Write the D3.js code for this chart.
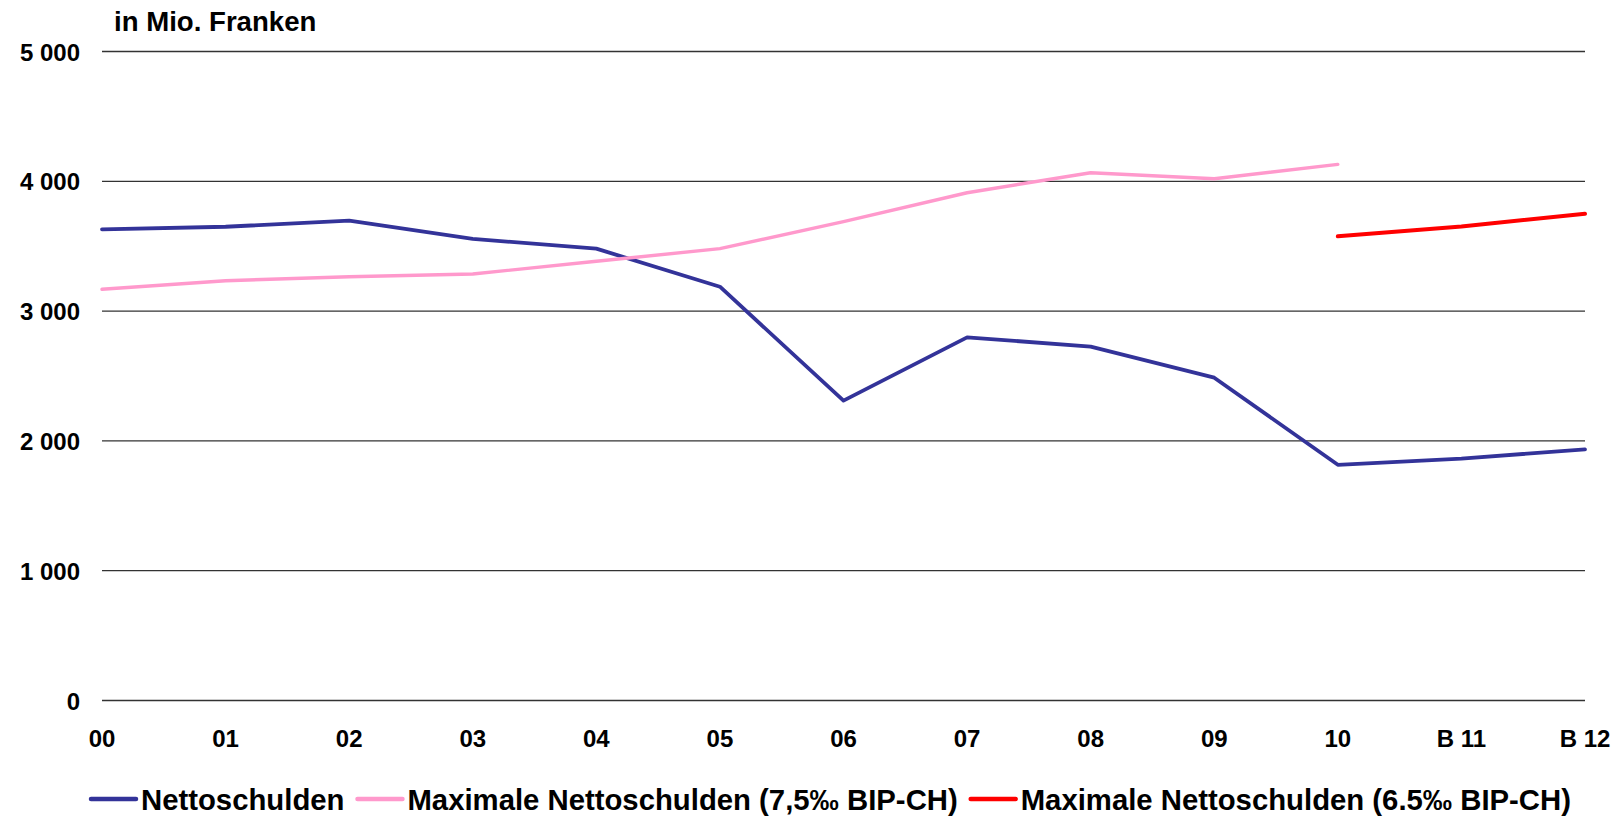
<!DOCTYPE html>
<html>
<head>
<meta charset="utf-8">
<script src="https://cdn.jsdelivr.net/npm/d3@7"></script>
<style>
  body { margin: 0; background: #fff; }
  svg { display: block; font-family: "Liberation Sans", Arial, sans-serif; font-weight: bold; }
</style>
</head>
<body>
<div id="grafico"></div>
<script>
// datos
const categorias = ["00","01","02","03","04","05","06","07","08","09","10","B 11","B 12"];
const nettoschulden = [3630,3650,3697,3556,3481,3188,2310,2798,2726,2487,1816,1864,1935];
const maxNetto75 = [3168,3234,3265,3286,3384,3481,3689,3912,4066,4020,4130,null,null];
const maxNetto65 = [null,null,null,null,null,null,null,null,null,null,3576,3652,3750];
const ticksY = [0,1000,2000,3000,4000,5000];
const ticksLabel = ["0","1 000","2 000","3 000","4 000","5 000"];

const series = [
  {nombre:"Nettoschulden", valores:nettoschulden, color:"#333399", ancho:3.8},
  {nombre:"Maximale Nettoschulden (7,5‰ BIP-CH)", valores:maxNetto75, color:"#FF99CC", ancho:3.4},
  {nombre:"Maximale Nettoschulden (6.5‰ BIP-CH)", valores:maxNetto65, color:"#FF0000", ancho:4}
];

const W = 1616, H = 816;

const svg = d3.select("#grafico")
  .append("svg")
  .attr("width", W)
  .attr("height", H);

const x = d3.scalePoint()
  .domain(categorias)
  .range([102, 1585]);

const y = d3.scaleLinear()
  .domain([0, 5000])
  .range([700.5, 51.5]);

// lineas de la grilla
svg.append("g")
  .selectAll("line")
  .data(ticksY)
  .enter()
  .append("line")
    .attr("x1", 102)
    .attr("x2", 1585)
    .attr("y1", d => y(d))
    .attr("y2", d => y(d))
    .style("stroke", "#333")
    .style("stroke-width", 1.3);

// eje Y (solo etiquetas)
svg.append("g")
  .selectAll("text")
  .data(ticksY)
  .enter()
  .append("text")
    .attr("x", 80)
    .attr("y", d => y(d) + 9)
    .attr("text-anchor", "end")
    .style("font-size", "24px")
    .text((d, i) => ticksLabel[i]);

// eje X (solo etiquetas)
svg.append("g")
  .selectAll("text")
  .data(categorias)
  .enter()
  .append("text")
    .attr("x", d => x(d))
    .attr("y", 747)
    .attr("text-anchor", "middle")
    .style("font-size", "24px")
    .text(d => d);

// titulo del eje
svg.append("text")
  .attr("x", 114)
  .attr("y", 31)
  .style("font-size", "27.6px")
  .text("in Mio. Franken");

// las lineas
const linea = d3.line()
  .defined(d => d[1] != null)
  .x(d => x(d[0]))
  .y(d => y(d[1]));

series.forEach(s => {
  svg.append("path")
    .datum(categorias.map((c, i) => [c, s.valores[i]]))
    .attr("d", linea)
    .style("fill", "none")
    .style("stroke", s.color)
    .style("stroke-width", s.ancho)
    .style("stroke-linejoin", "round")
    .style("stroke-linecap", "round");
});

// leyenda
const leyenda = svg.append("g");
let posX = 91;
series.forEach(s => {
  leyenda.append("line")
    .attr("x1", posX)
    .attr("x2", posX + 45)
    .attr("y1", 799)
    .attr("y2", 799)
    .style("stroke", s.color)
    .style("stroke-width", 4.5)
    .style("stroke-linecap", "round");
  const t = leyenda.append("text")
    .attr("x", posX + 50)
    .attr("y", 810)
    .style("font-size", "29.3px")
    .text(s.nombre);
  posX += 50 + t.node().getComputedTextLength() + 13;
});
</script>
</body>
</html>
